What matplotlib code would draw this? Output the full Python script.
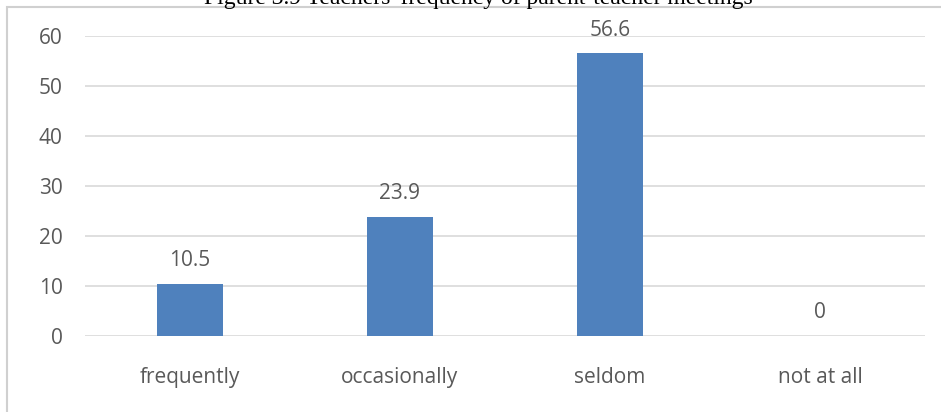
import matplotlib
matplotlib.use("Agg")
import matplotlib.pyplot as plt
from matplotlib.patches import Rectangle

# Data
categories = ["frequently", "occasionally", "seldom", "not at all"]
values = [10.5, 23.9, 56.6, 0]
yticks = [0, 10, 20, 30, 40, 50, 60]

bar_color = "#4F81BD"
text_color = "#595959"
grid_color = "#D9D9D9"
font = "Open Sans"

W, H = 941, 412
fig = plt.figure(figsize=(W / 100, H / 100), dpi=100)

# chart frame, open to the right and bottom
fig.patches.append(Rectangle((7 / W, -0.1), 1.2, 1.1 - 7 / H, transform=fig.transFigure,
                             fill=False, edgecolor="#D0D0D0", linewidth=1.5))

# plot area in pixel terms: x 85..925, y 0 at 336 and 60 at 36
ax = fig.add_axes([85 / W, (H - 336) / H, 840 / W, 300 / H])
x = list(range(len(categories)))
ax.bar(x, values, width=0.315, color=bar_color, zorder=3)
ax.set_xlim(-0.5, len(categories) - 0.5)
ax.set_ylim(0, 60)
ax.set_yticks(yticks)
ax.set_xticks(x)
ax.set_xticklabels(categories)

for v in yticks:
    ax.axhline(v, color=grid_color, linewidth=1.2, zorder=1)

for xi, v in zip(x, values):
    ax.annotate(f"{v:g}", (xi, v), xytext=(0, 9), textcoords="offset points",
                ha="center", va="bottom", fontsize=15, color=text_color,
                family=font)

for s in ax.spines.values():
    s.set_visible(False)
ax.tick_params(length=0, labelsize=15, labelcolor=text_color)
ax.tick_params(axis="y", pad=16)
ax.tick_params(axis="x", pad=22)
for t in ax.get_xticklabels() + ax.get_yticklabels():
    t.set_family(font)

# caption, partly cut off at the top edge
fig.text(478 / W, 1 - 4 / H, "Figure 3.9 Teachers' frequency of parent-teacher meetings",
         ha="center", va="baseline", fontsize=17, family="Liberation Serif", color="black")

fig.savefig("out.png", dpi=100)
